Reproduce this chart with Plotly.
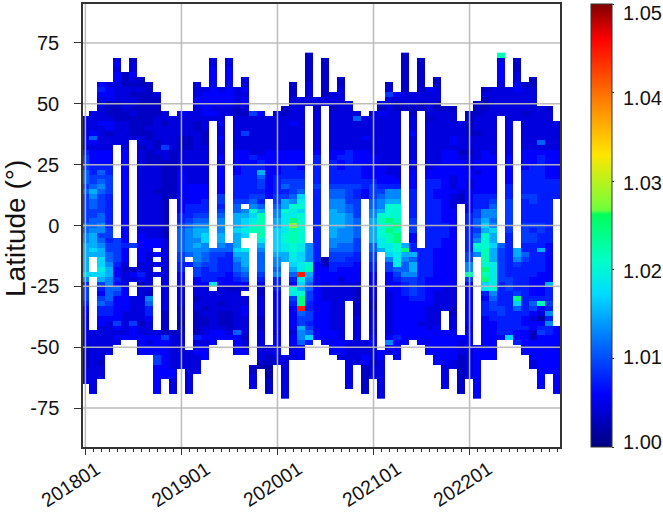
import plotly.graph_objects as go

month_labels = ["201801", "201901", "202001", "202101", "202201"]
month_ticks = [0, 12, 24, 36, 48]
lat_ticks = [75, 50, 25, 0, -25, -50, -75]
lat_text = ["75", "50", "25", "0", "-25", "-50", "-75"]
cbar_ticks = [1.00, 1.01, 1.02, 1.03, 1.04, 1.05]
lats = list(range(70, -72, -2))

top_lat = [44,46,58,58,68,62,68,60,58,54,46,44,
           46,46,58,56,68,56,68,56,60,46,46,44,
           46,48,58,52,70,52,68,54,60,50,46,44,
           46,50,58,54,70,54,68,56,60,48,48,42,
           46,50,56,56,70,56,68,58,60,48,48,42]
bottom_lat = [-64,-68,-62,-52,-48,-46,-46,-52,-52,-68,-62,-68,
              -58,-68,-60,-54,-48,-46,-46,-52,-52,-66,-58,-68,
              -56,-70,-54,-54,-48,-46,-48,-52,-54,-66,-56,-68,
              -62,-70,-52,-54,-48,-46,-48,-52,-56,-66,-58,-68,
              -62,-70,-54,-54,-46,-46,-48,-52,-58,-66,-60,-68]
gaps = {1:[(-14,-18),(-22,-42)], 4:[(32,-4)], 6:[(34,-6),(-10,-16),(-24,-28)],
        9:[(-10,-10),(-14,-14),(-18,-18),(-22,-42)], 11:[(10,-42)],
        13:[(-14,-14),(-18,-50)], 16:[(42,-8),(-26,-26)], 18:[(44,-6)],
        20:[(8,8),(-6,-8),(-28,-28)], 21:[(-4,-56)], 23:[(10,-48)],
        25:[(-16,-52)], 28:[(48,-6)], 30:[(48,-12)], 33:[(-32,-46)],
        35:[(10,-46)], 37:[(-12,-50)], 40:[(46,-6)], 42:[(46,-8)],
        45:[(-36,-42)], 47:[(8,-44)], 49:[(-14,-48)], 52:[(44,-6)],
        54:[(42,-8)], 59:[(10,-40)]}

level_values = {"0":1.002,"1":1.0032,"2":1.0045,"3":1.006,"4":1.0075,"5":1.009,
                "6":1.011,"7":1.013,"8":1.015,"9":1.017,"a":1.019,"b":1.0205,
                "c":1.022,"d":1.0245,"e":1.0275,"g":1.0445}

level_rows = [
"111111111111 111111111111 111111111111 111111111111 1111c1111111", # 70
"111121111111 111121211112 111112121111 111112111111 111121121111", # 68
"111131211111 111121211111 111112121111 111212111111 111131121111", # 66
"111121211111 111131311111 111112121111 111212111111 111131121111", # 64
"111131311111 111131311111 111112121111 111212111111 111131231111", # 62
"111131211111 111131312111 111112121111 111212111111 111131211111", # 60
"113221111111 222132312111 111122121211 111212111111 111121311111", # 58
"124322221111 232232323211 221222122221 222212132111 111222322111", # 56
"123322111211 242333322311 221222122221 225322222111 112222222211", # 54
"122322211111 233333323241 222222222221 222222222211 111222222211", # 52
"122112211111 223333323231 222222222211 222122121111 111222222111", # 50
"112112111121 222322212221 112211112211 112111121111 111222222211", # 48
"122111211122 322332211532 212222222222 232221122221 112222212222", # 46
"222211111222 222222222222 222222222262 222222112221 122222222222", # 44
"223322111212 221233222222 223222222222 222222222222 122222222222", # 42
"222322112222 221232222222 222222222222 222222222222 122222222222", # 40
"232122111222 222132225222 222222222222 222233222222 112222222222", # 38
"362222221222 112123222222 222222222223 222232222232 222222222222", # 36
"332222222122 112122222222 222222222222 222222222232 222232222622", # 34
"222232112152 112222222222 222222222222 222222222222 222222222222", # 32
"433323221221 222232333223 333343333433 222232222331 123232233333",
"533333221121 222223233433 333344434433 322232222332 223333333433",
"533333221111 222232333343 333344443433 322223222333 233333333433",
"544433222211 222233334443 344344443443 332222323333 233333334433",
"646443222211 322233334483 344444444443 332233333333 323333344433",
"655533322211 322233344463 444444444443 333233333323 333333344433",
"656533322211 322233344453 455544544444 433333444323 233333444444",
"567533322211 333333444453 465555655554 544443544323 233344444444",
"686533322111 333333344443 445664566543 557764543332 333344444444",
"575433322211 333345544553 556964566543 567764543321 344444555444",
"565433322211 333445555643 587a64677554 678864544321 344545545444",
"565433322211 344444565763 68bb74677654 67bb64544322 344645544443",
"555433222211 344455667b83 7ba974687654 78bb64544332 357745544443",
"556433222211 4455666889c3 7aab74688754 7bbb64544332 457755544443",
"566433222211 456677789ac3 8adb74688764 8cdc65544332 468655544443",
"667433222211 567787889bc3 8aeb64688764 8bcd65544433 469765555544", # 0
"677543222211 67888789acc3 9acb64687764 8bdc65544433 458965554544",
"785533332211 6789888899c3 9bcb64687764 8bcd63544433 46b864555444",
"786453533321 6779787899a3 9bcb64677754 8acd63544333 47b864555444",
"887554533321 67877768a983 9aba74676654 6aab84544333 4bb964544433",
"898553333321 67776669a973 9aba74566654 68abd4443333 4ac854844833",
"888653332321 567655488963 88a974355543 579a88443333 57c854864433",
"889653332221 557654478963 78a974055443 567a76443333 57c854754433",
"889742222221 446554468863 779ab3144433 455a68443333 76ba54544433",
"88a831122221 445454467763 678ac3343333 445668443333 76da54444433",
"999832342221 335444356653 756g83333333 333577443333 c5ca54444333",
"7a8742232221 333443345543 454a73332332 333455433333 55da55443333",
"475732212221 3333a3333433 443963232222 333345433333 339a45443383",
"574663222222 222232112212 43b863222211 223345433222 33ab45443343",
"563653221222 222222223212 33ab53222211 222345432222 334744543343",
"555633227222 221222222222 335d53222211 222334432221 333644d44443",
"456533226222 222221222322 334d43322211 122333332221 334544946c53",
"354433224221 112122223221 333g43322211 122333322211 334554645343",
"334432224211 111221123221 333653322211 222333322211 334454443273",
"223332223211 111121122211 333553322221 222333322222 333444432043",
"223252512211 011121122211 333543322221 222333222223 333344433373",
"222232322211 111222122212 333853322222 222333323222 223344443443",
"222222322211 111233262222 222763332222 222333333332 333344331543",
"222233333352 114333331222 333793332223 333433333333 333339331333",
"222223332332 222233332222 333643333222 337333333332 383333433333",
"122222333332 223333332222 332333333222 233333333332 333333333332", # -50
"122223333332 223333333222 333333333222 232333333332 233333333333",
"122222223532 222333333221 222333332223 232333333331 233333333333",
"121222222532 222333333211 222333322223 122333333321 232333332333",
"122222223332 222233333100 222233322221 222233332221 233333332333",
"222222223333 222233333100 222233322221 222233331221 233333332333",
"222222223333 222233333200 222233322221 222233331221 233333332333",
"222222223332 222233333211 222233322221 222233331221 233333333333",
"222222223332 222233333211 222233322221 222233332221 233333333333",
"222222223332 222233333211 222233322221 222233332221 233333333333",
"222222223332 222233333211 222233322221 222233332221 233333333333",
]

z = []
for r, row in enumerate(level_rows):
    chars = row.replace(" ", "")
    assert len(chars) == 60, (r, len(chars))
    line = []
    for c, ch in enumerate(chars):
        lat = lats[r]
        missing = lat > top_lat[c] or lat < bottom_lat[c]
        for hi, lo in gaps.get(c, []):
            if lo <= lat <= hi:
                missing = True
        line.append(None if missing else level_values[ch])
    z.append(line)
assert len(z) == len(lats), len(z)

colorscale = [[0, "rgb(0,0,128)"], [0.12, "rgb(0,0,255)"], [0.254, "rgb(0,128,255)"],
              [0.346, "rgb(0,220,255)"], [0.42, "rgb(0,255,200)"], [0.525, "rgb(0,255,90)"],
              [0.535, "rgb(110,255,60)"], [0.66, "rgb(255,230,0)"], [0.78, "rgb(255,128,0)"],
              [0.92, "rgb(255,0,0)"], [1, "rgb(128,0,0)"]]

font = "Liberation Sans, Arial, sans-serif"
ink = "#333333"
text_color = "#111111"
fig = go.Figure(go.Heatmap(
    z=z, x=list(range(60)), y=lats, zmin=1.0, zmax=1.05, colorscale=colorscale,
    hoverongaps=False,
    colorbar=dict(x=1.065, xanchor="left", xpad=0, y=0.5, ypad=0, len=1, thickness=21,
                  outlinecolor=ink, outlinewidth=1, tickvals=cbar_ticks,
                  showticklabels=False, ticks="outside", ticklen=2, tickcolor=ink)))

shapes = []
for t in month_ticks:
    shapes.append(dict(type="line", xref="x", yref="paper", x0=t, x1=t, y0=0, y1=1,
                       line=dict(color="rgba(185,185,185,0.95)", width=1.5), layer="above"))
for t in lat_ticks:
    shapes.append(dict(type="line", xref="paper", yref="y", x0=0, x1=1, y0=t, y1=t,
                       line=dict(color="rgba(185,185,185,0.95)", width=1.5), layer="above"))

annotations = []
x_nudges = [-14.5, -0.5, -5, -2, -7]
for t, lab, dx in zip(month_ticks, month_labels, x_nudges):
    annotations.append(dict(x=t, y=0, xref="x", yref="paper", text=lab, showarrow=False,
                            textangle=-33, xshift=dx, yshift=-37, xanchor="center", yanchor="middle",
                            font=dict(family=font, size=19.5, color=text_color)))
label_y = [442, 357, 270, 182, 96, 11]
for v, py in zip(cbar_ticks, label_y):
    annotations.append(dict(x=(623 - 83) / 477, y=1 - (py - 2) / 445, xref="paper", yref="paper",
                            text=f"{v:.2f}", showarrow=False, xanchor="left", yanchor="middle",
                            xshift=-2,
                            font=dict(family=font, size=20, color=text_color)))
annotations.append(dict(x=(16 - 83) / 477, y=1 - (228 - 2) / 445, xref="paper", yref="paper",
                        text="Latitude (°)", showarrow=False, textangle=-90,
                        xanchor="center", yanchor="middle",
                        font=dict(family=font, size=28, color=text_color)))

fig.update_layout(
    width=663, height=512, margin=dict(l=83, r=103, t=2, b=65),
    paper_bgcolor="white", plot_bgcolor="white", shapes=shapes, annotations=annotations,
    xaxis=dict(range=[-0.3, 59.3], showgrid=False, zeroline=False, tickvals=month_ticks,
               ticktext=["" for _ in month_ticks], ticks="outside", ticklen=6, tickcolor=ink,
               minor=dict(dtick=1, ticks="outside", ticklen=3, tickcolor=ink),
               showline=True, mirror=True, linecolor=ink, linewidth=1.5),
    yaxis=dict(range=[-91, 91], showgrid=False, zeroline=False, tickvals=lat_ticks,
               ticktext=lat_text, ticks="outside", ticklen=7, tickcolor=ink, ticklabelstandoff=11,
               tickfont=dict(family=font, size=20, color=text_color),
               showline=True, mirror=True, linecolor=ink, linewidth=1.5),
)
fig.write_html("out.html", config={"displayModeBar": False},
               post_script="document.body.style.margin='0';")
